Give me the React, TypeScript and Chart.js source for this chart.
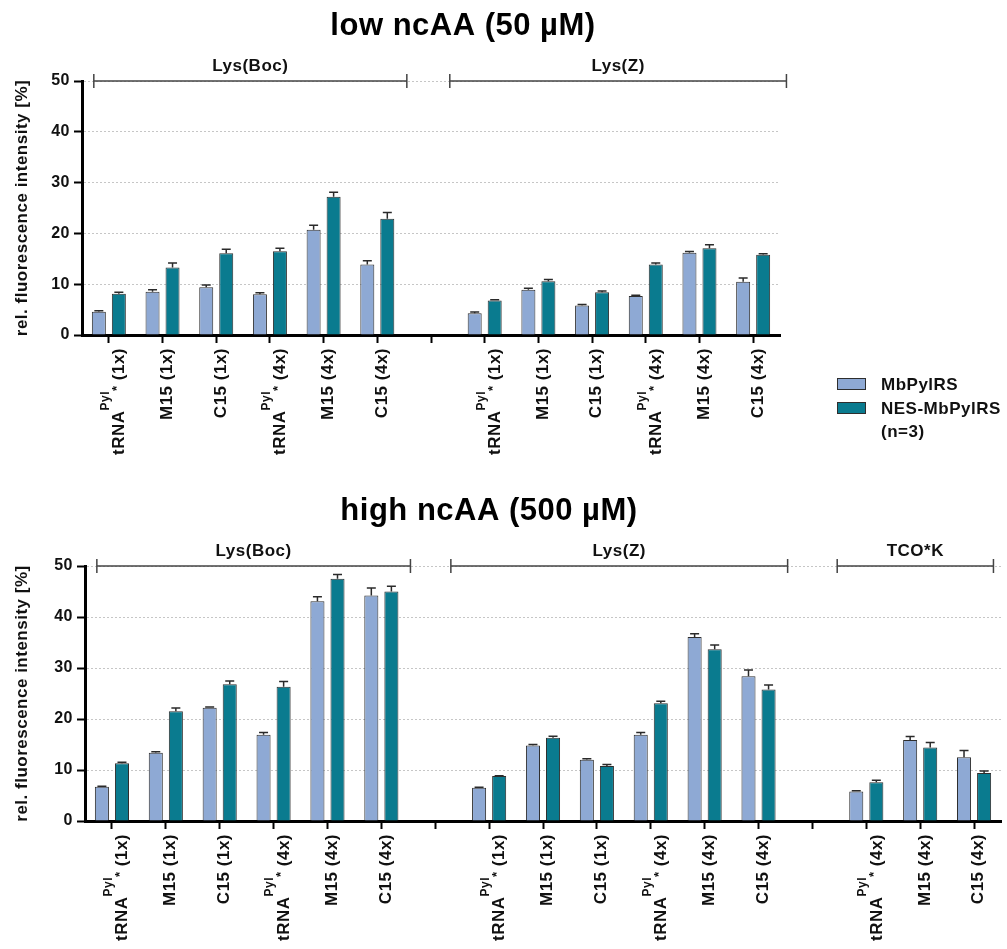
import React, { useEffect, useRef } from 'react';
import { Chart, registerables } from 'chart.js';

Chart.register(...registerables);

// ---------------- data ----------------
const TITLE_LOW = 'low ncAA (50 µM)';
const TITLE_HIGH = 'high ncAA (500 µM)';
const Y_TITLE = 'rel. fluorescence intensity [%]';
const SERIES_NAMES = ['MbPylRS', 'NES-MbPylRS'];
const N_NOTE = '(n=3)';
const Y_MIN = 0;
const Y_MAX = 50;
const Y_STEP = 10;

const LOW_LABELS = [
  'tRNA^Pyl_* (1x)', 'M15 (1x)', 'C15 (1x)', 'tRNA^Pyl_* (4x)', 'M15 (4x)', 'C15 (4x)',
  '',
  'tRNA^Pyl_* (1x)', 'M15 (1x)', 'C15 (1x)', 'tRNA^Pyl_* (4x)', 'M15 (4x)', 'C15 (4x)',
];
const LOW_MB = [4.6, 8.5, 9.4, 8.0, 20.7, 13.9, null, 4.3, 8.9, 5.8, 7.7, 16.2, 10.5];
const LOW_MB_ERR = [0.15, 0.4, 0.45, 0.3, 0.9, 0.7, null, 0.25, 0.3, 0.2, 0.13, 0.26, 0.7];
const LOW_NES = [8.1, 13.3, 16.1, 16.5, 27.2, 22.9, null, 6.8, 10.6, 8.4, 13.9, 17.1, 15.8];
const LOW_NES_ERR = [0.3, 0.85, 0.8, 0.6, 0.9, 1.2, null, 0.13, 0.33, 0.26, 0.26, 0.65, 0.2];

const HIGH_LABELS = [
  'tRNA^Pyl_* (1x)', 'M15 (1x)', 'C15 (1x)', 'tRNA^Pyl_* (4x)', 'M15 (4x)', 'C15 (4x)',
  '',
  'tRNA^Pyl_* (1x)', 'M15 (1x)', 'C15 (1x)', 'tRNA^Pyl_* (4x)', 'M15 (4x)', 'C15 (4x)',
  '',
  'tRNA^Pyl_* (4x)', 'M15 (4x)', 'C15 (4x)',
];
const HIGH_MB = [6.7, 13.4, 22.2, 16.9, 43.1, 44.2, null, 6.5, 14.8, 12.0, 16.9, 36.1, 28.4, null, 5.8, 15.9, 12.5];
const HIGH_MB_ERR = [0.13, 0.2, 0.13, 0.45, 0.85, 1.5, null, 0.13, 0.2, 0.2, 0.45, 0.6, 1.2, null, 0.13, 0.65, 1.3];
const HIGH_NES = [11.3, 21.5, 26.8, 26.3, 47.5, 45.0, null, 8.8, 16.3, 10.8, 23.1, 33.7, 25.8, null, 7.6, 14.4, 9.4];
const HIGH_NES_ERR = [0.2, 0.65, 0.65, 1.05, 0.85, 1.05, null, 0.06, 0.33, 0.26, 0.4, 0.8, 0.85, null, 0.4, 1.0, 0.4];

// group brackets (in category-index units)
const LOW_GROUPS = [
  { name: 'Lys(Boc)', from: -0.28, to: 5.55 },
  { name: 'Lys(Z)', from: 6.35, to: 12.62 },
];
const HIGH_GROUPS = [
  { name: 'Lys(Boc)', from: -0.28, to: 5.54 },
  { name: 'Lys(Z)', from: 6.29, to: 12.54 },
  { name: 'TCO*K', from: 13.46, to: 16.36 },
];

// ---------------- style ----------------
const FONT = '"Liberation Sans", Arial, Helvetica, sans-serif';
const LIGHT = '#8EA9D4';
const TEAL = '#0A7B8F';
const EDGE = '#2E2E2E';
const INK = '#111111';

Chart.defaults.font.family = FONT;

function parseLabel(s: string) {
  const m = s.match(/^(.*?)\^(\w+)_(\S)(.*)$/);
  if (!m) return [{ t: s, size: 17, dy: 0 }];
  return [
    { t: m[1], size: 17, dy: 0 },
    { t: m[2], size: 12, dy: -15.5 },
    { t: m[3], size: 13, dy: -3.5 },
    { t: m[4], size: 17, dy: 0 },
  ];
}

const letterSpacingPlugin = {
  id: 'letterSpacing',
  beforeDraw(chart: any) {
    try { chart.ctx.letterSpacing = '0.5px'; } catch (e) { /* ignore */ }
  },
};

const errorBarsPlugin = {
  id: 'errorBars',
  afterDatasetsDraw(chart: any) {
    const { ctx } = chart;
    const ys = chart.scales.y;
    ctx.save();
    ctx.strokeStyle = '#2a2a2a';
    ctx.lineWidth = 1.5;
    chart.data.datasets.forEach((ds: any, di: number) => {
      const meta = chart.getDatasetMeta(di);
      meta.data.forEach((el: any, i: number) => {
        const v = ds.data[i];
        const e = ds.errors ? ds.errors[i] : null;
        if (v == null || e == null) return;
        const yTop = ys.getPixelForValue(v + e);
        ctx.beginPath();
        ctx.moveTo(el.x, el.y);
        ctx.lineTo(el.x, yTop);
        ctx.moveTo(el.x - 4.5, yTop);
        ctx.lineTo(el.x + 4.5, yTop);
        ctx.stroke();
      });
    });
    ctx.restore();
  },
};

const richLabelsPlugin = {
  id: 'richLabels',
  afterDraw(chart: any) {
    const { ctx } = chart;
    const xs = chart.scales.x;
    const top = chart.chartArea.bottom + 13;
    chart.data.labels.forEach((lab: string, i: number) => {
      if (!lab) return;
      const segs: any[] = parseLabel(lab);
      ctx.save();
      ctx.fillStyle = INK;
      try { ctx.letterSpacing = '0.5px'; } catch (e) { /* ignore */ }
      let total = 0;
      let minTop = 0;
      segs.forEach((s) => {
        ctx.font = `bold ${s.size}px ${FONT}`;
        s.w = ctx.measureText(s.t).width;
        total += s.w;
        minTop = Math.min(minTop, s.dy - 0.716 * s.size);
      });
      const x = xs.getPixelForValue(i);
      const base = 3.3 - minTop / 2;
      ctx.translate(x + base, top);
      ctx.rotate(-Math.PI / 2);
      ctx.textAlign = 'left';
      ctx.textBaseline = 'alphabetic';
      let u = -total;
      segs.forEach((s) => {
        ctx.font = `bold ${s.size}px ${FONT}`;
        ctx.fillText(s.t, u, s.dy);
        u += s.w;
      });
      ctx.restore();
    });
  },
};

function makeBracketsPlugin(groups: any[]) {
  return {
    id: 'brackets',
    afterDraw(chart: any) {
      const { ctx } = chart;
      const xs = chart.scales.x;
      const ys = chart.scales.y;
      const y = ys.getPixelForValue(Y_MAX);
      ctx.save();
      ctx.strokeStyle = '#444';
      ctx.lineWidth = 1.5;
      ctx.fillStyle = INK;
      ctx.font = `bold 17px ${FONT}`;
      try { ctx.letterSpacing = '0.5px'; } catch (e) { /* ignore */ }
      ctx.textAlign = 'center';
      ctx.textBaseline = 'alphabetic';
      groups.forEach((g) => {
        const x1 = xs.getPixelForValue(g.from);
        const x2 = xs.getPixelForValue(g.to);
        ctx.beginPath();
        ctx.moveTo(x1, y);
        ctx.lineTo(x2, y);
        ctx.moveTo(x1, y - 7);
        ctx.lineTo(x1, y + 7);
        ctx.moveTo(x2, y - 7);
        ctx.lineTo(x2, y + 7);
        ctx.stroke();
        ctx.fillText(g.name, (x1 + x2) / 2, y - 10);
      });
      ctx.restore();
    },
  };
}

function makeTitlePlugin(text: string, x: number, y: number) {
  return {
    id: 'panelTitle',
    afterDraw(chart: any) {
      const { ctx } = chart;
      ctx.save();
      ctx.fillStyle = '#000';
      ctx.font = `bold 31px ${FONT}`;
      try { ctx.letterSpacing = '0.5px'; } catch (e) { /* ignore */ }
      ctx.textAlign = 'center';
      ctx.textBaseline = 'alphabetic';
      ctx.fillText(text, x, y);
      ctx.restore();
    },
  };
}

const legendPlugin = {
  id: 'sideLegend',
  afterDraw(chart: any) {
    const { ctx } = chart;
    ctx.save();
    ctx.font = `bold 17px ${FONT}`;
    try { ctx.letterSpacing = '0.5px'; } catch (e) { /* ignore */ }
    ctx.textAlign = 'left';
    ctx.textBaseline = 'middle';
    const rows = [384, 408];
    chart.data.datasets.forEach((ds: any, i: number) => {
      const cy = rows[i];
      ctx.fillStyle = ds.backgroundColor;
      ctx.fillRect(837, cy - 6, 29, 12);
      ctx.strokeStyle = EDGE;
      ctx.lineWidth = 1;
      ctx.strokeRect(837.5, cy - 5.5, 28, 11);
      ctx.fillStyle = INK;
      ctx.fillText(ds.label, 881, cy + 1);
    });
    ctx.fillText(N_NOTE, 881, 432);
    ctx.restore();
  },
};

type PanelProps = {
  width: number;
  height: number;
  area: { left: number; right: number; top: number; bottom: number };
  labels: string[];
  mb: (number | null)[];
  mbErr: (number | null)[];
  nes: (number | null)[];
  nesErr: (number | null)[];
  groups: any[];
  title: string;
  titleX: number;
  titleY: number;
  legend: boolean;
};

function BarPanel(p: PanelProps) {
  const ref = useRef<HTMLCanvasElement>(null);
  useEffect(() => {
    if (!ref.current) return;
    const plugins: any[] = [
      letterSpacingPlugin,
      errorBarsPlugin,
      richLabelsPlugin,
      makeBracketsPlugin(p.groups),
      makeTitlePlugin(p.title, p.titleX, p.titleY),
    ];
    if (p.legend) plugins.push(legendPlugin);
    const chart = new Chart(ref.current, {
      type: 'bar',
      data: {
        labels: p.labels,
        datasets: [
          {
            label: SERIES_NAMES[0],
            data: p.mb,
            errors: p.mbErr,
            backgroundColor: LIGHT,
            borderColor: EDGE,
            borderWidth: 1,
            barPercentage: 0.7,
            categoryPercentage: 0.745,
          } as any,
          {
            label: SERIES_NAMES[1],
            data: p.nes,
            errors: p.nesErr,
            backgroundColor: TEAL,
            borderColor: EDGE,
            borderWidth: 1,
            barPercentage: 0.7,
            categoryPercentage: 0.745,
          } as any,
        ],
      },
      options: {
        responsive: false,
        maintainAspectRatio: false,
        animation: false,
        layout: {
          padding: { left: 0, right: p.width - p.area.right, top: p.area.top, bottom: 0 },
        },
        plugins: {
          legend: { display: false },
          tooltip: { enabled: false },
          title: { display: false },
        },
        scales: {
          x: {
            type: 'category',
            offset: true,
            grid: {
              offset: false,
              drawOnChartArea: false,
              drawTicks: true,
              tickLength: 8,
              tickColor: '#000',
              tickWidth: 2,
              tickBorderDash: [],
            },
            border: { display: true, color: '#000', width: 3 },
            ticks: { display: false, autoSkip: false },
            afterFit: (s: any) => { s.height = p.height - p.area.bottom; },
          },
          y: {
            min: Y_MIN,
            max: Y_MAX,
            ticks: {
              stepSize: Y_STEP,
              padding: 4,
              color: INK,
              font: { size: 16, weight: 'bold' },
            },
            grid: {
              color: '#c6c6c6',
              lineWidth: 1,
              tickColor: '#000',
              tickWidth: 2,
              tickLength: 8,
              tickBorderDash: [],
            },
            border: { display: true, color: '#000', width: 3, dash: [2, 2] },
            title: {
              display: true,
              text: Y_TITLE,
              color: INK,
              font: { size: 17, weight: 'bold' },
              padding: { top: 12, bottom: 0 },
            },
            afterFit: (s: any) => { s.width = p.area.left; },
          },
        },
      } as any,
      plugins,
    });
    return () => chart.destroy();
  }, []);
  return <canvas ref={ref} width={p.width} height={p.height} style={{ display: 'block' }} />;
}

export default function App() {
  return (
    <div style={{ position: 'absolute', left: 0, top: 0, width: 1007, height: 949, background: '#fff' }}>
      <BarPanel
        width={1007}
        height={475}
        area={{ left: 82, right: 780, top: 81, bottom: 335 }}
        labels={LOW_LABELS}
        mb={LOW_MB}
        mbErr={LOW_MB_ERR}
        nes={LOW_NES}
        nesErr={LOW_NES_ERR}
        groups={LOW_GROUPS}
        title={TITLE_LOW}
        titleX={463}
        titleY={35}
        legend={true}
      />
      <BarPanel
        width={1007}
        height={474}
        area={{ left: 85, right: 1001, top: 91, bottom: 346 }}
        labels={HIGH_LABELS}
        mb={HIGH_MB}
        mbErr={HIGH_MB_ERR}
        nes={HIGH_NES}
        nesErr={HIGH_NES_ERR}
        groups={HIGH_GROUPS}
        title={TITLE_HIGH}
        titleX={489}
        titleY={45}
        legend={false}
      />
    </div>
  );
}
